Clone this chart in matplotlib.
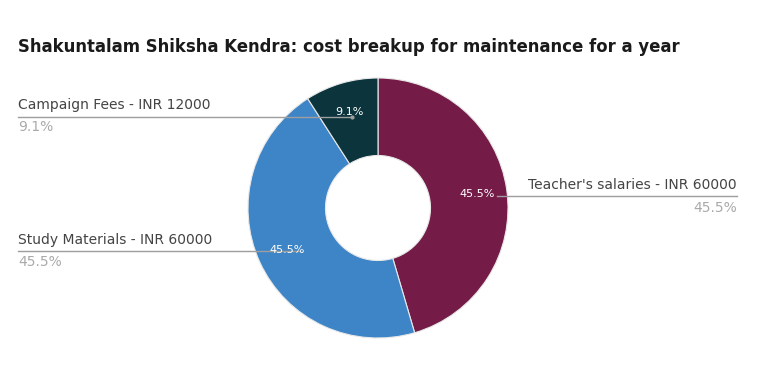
import matplotlib
matplotlib.use('Agg')
import matplotlib.pyplot as plt

# Données
labels = ["Teacher's salaries", "Study Materials", "Campaign Fees"]
costs = [60000, 60000, 12000]
colors = ['#741B47', '#3D85C6', '#0C343D']
title = "Shakuntalam Shiksha Kendra: cost breakup for maintenance for a year"

W, H = 761, 371
fig = plt.figure(figsize=(W / 100, H / 100), dpi=100)
ax = fig.add_axes([0, 0, 1, 1])

# coordonnées en pixels (y vers le haut)
cx, cy, r = 378, H - 208, 130
wedges, texts, autotexts = ax.pie(
    costs, colors=colors, startangle=90, counterclock=False,
    center=(cx, cy), radius=r, autopct='%1.1f%%', pctdistance=0.77,
    wedgeprops=dict(width=r - 52.5, edgecolor='#e8e8e8', linewidth=0.8),
    textprops=dict(color='white', fontsize=8))

ax.set_xlim(0, W)
ax.set_ylim(0, H)
ax.set_aspect('equal')
ax.axis('off')

total = sum(costs)
pct = [f'{100 * c / total:.1f}%' for c in costs]

line_col = '#9e9e9e'
lab_col = '#444444'
pct_col = '#aaaaaa'
fs = 10

# Teacher's salaries (droite)
ax.plot([497, 737], [H - 196, H - 196], color=line_col, lw=1)
ax.text(737, H - 185, f"{labels[0]} - INR {costs[0]}", ha='right', va='center',
        fontsize=fs, color=lab_col)
ax.text(737, H - 208, pct[0], ha='right', va='center', fontsize=fs, color=pct_col)

# Study Materials (gauche)
ax.plot([18, 300], [H - 251, H - 251], color=line_col, lw=1)
ax.text(18, H - 240, f"{labels[1]} - INR {costs[1]}", ha='left', va='center',
        fontsize=fs, color=lab_col)
ax.text(18, H - 262, pct[1], ha='left', va='center', fontsize=fs, color=pct_col)

# Campaign Fees (gauche haut)
ax.plot([18, 352], [H - 117, H - 117], color=line_col, lw=1)
ax.plot([352], [H - 117], marker='o', ms=2, color=line_col)
ax.text(18, H - 105, f"{labels[2]} - INR {costs[2]}", ha='left', va='center',
        fontsize=fs, color=lab_col)
ax.text(18, H - 127, pct[2], ha='left', va='center', fontsize=fs, color=pct_col)

# Titre
ax.text(18, H - 47, title, ha='left', va='center', fontsize=11.9,
        fontweight='bold', color='#1a1a1a')

plt.savefig('out.png', dpi=100)
